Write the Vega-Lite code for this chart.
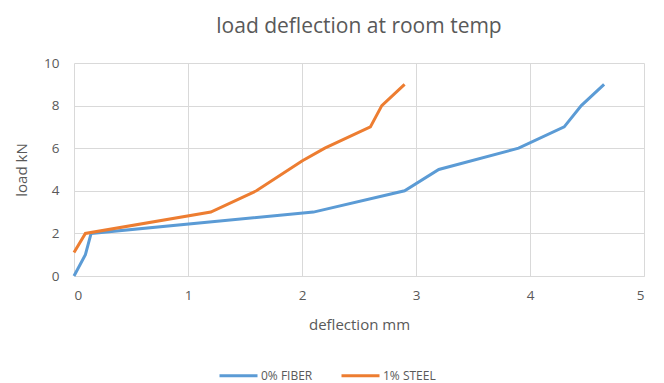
{
  "$schema": "https://vega.github.io/schema/vega-lite/v6.json",
  "autosize": {"type": "none"},
  "width": 570,
  "height": 213,
  "padding": {"left": 74, "top": 63, "right": 20, "bottom": 107},
  "background": "white",
  "title": {"text": "load deflection at room temp", "font": "Open Sans", "fontSize": 21, "fontWeight": "normal", "color": "#595959", "offset": 19, "anchor": "middle"},
  "config": {
    "view": {"stroke": null},
    "axis": {"labelFont": "Open Sans", "titleFont": "Open Sans", "labelColor": "#595959", "titleColor": "#595959", "labelFontSize": 13.5, "titleFontSize": 15, "titleFontWeight": "normal", "gridColor": "#d9d9d9", "domainColor": "#d9d9d9", "ticks": false}
  },
  "data": {"values": [
    {"d": 0, "load": 0, "s": "0% FIBER"},
    {"d": 0.1, "load": 1, "s": "0% FIBER"},
    {"d": 0.15, "load": 2, "s": "0% FIBER"},
    {"d": 2.1, "load": 3, "s": "0% FIBER"},
    {"d": 2.9, "load": 4, "s": "0% FIBER"},
    {"d": 3.2, "load": 5, "s": "0% FIBER"},
    {"d": 3.9, "load": 6, "s": "0% FIBER"},
    {"d": 4.3, "load": 7, "s": "0% FIBER"},
    {"d": 4.45, "load": 8, "s": "0% FIBER"},
    {"d": 4.65, "load": 9, "s": "0% FIBER"},
    {"d": 0, "load": 1.1, "s": "1% STEEL"},
    {"d": 0.1, "load": 2, "s": "1% STEEL"},
    {"d": 1.2, "load": 3, "s": "1% STEEL"},
    {"d": 1.6, "load": 4, "s": "1% STEEL"},
    {"d": 2.0, "load": 5.4, "s": "1% STEEL"},
    {"d": 2.2, "load": 6, "s": "1% STEEL"},
    {"d": 2.6, "load": 7, "s": "1% STEEL"},
    {"d": 2.7, "load": 8, "s": "1% STEEL"},
    {"d": 2.9, "load": 9, "s": "1% STEEL"}
  ]},
  "mark": {"type": "line", "strokeWidth": 3},
  "encoding": {
    "x": {"field": "d", "type": "quantitative", "scale": {"domain": [0, 5], "nice": false}, "axis": {"title": "deflection mm", "tickCount": 5, "titlePadding": 16, "labelPadding": 12, "domain": true}},
    "y": {"field": "load", "type": "quantitative", "scale": {"domain": [0, 10]}, "axis": {"title": "load kN", "tickCount": 5, "titlePadding": 14, "labelPadding": 15, "domain": false}},
    "color": {"field": "s", "type": "nominal", "scale": {"domain": ["0% FIBER", "1% STEEL"], "range": ["#5B9BD5", "#ED7D31"]}, "legend": {"title": null, "orient": "none", "legendX": 144, "legendY": 292, "direction": "horizontal", "symbolType": "stroke", "symbolSize": 1444, "symbolStrokeWidth": 3, "labelFont": "Open Sans", "labelFontSize": 12, "labelColor": "#595959", "labelOffset": 2, "columnPadding": 22}},
    "order": {"field": "load", "type": "quantitative"}
  }
}
